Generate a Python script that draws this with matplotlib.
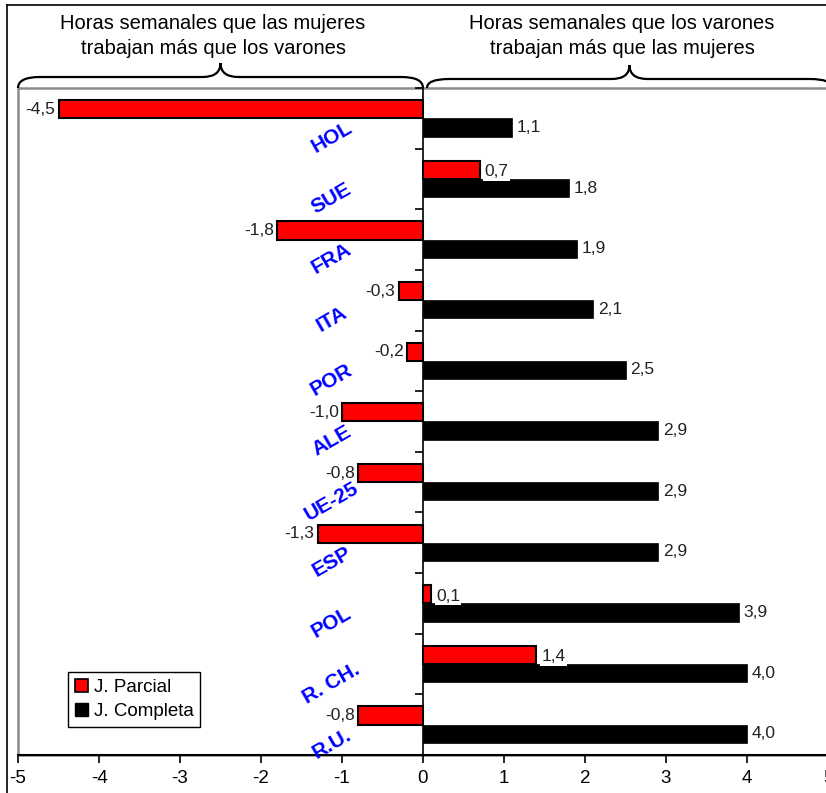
import matplotlib
matplotlib.use("Agg")
import matplotlib.pyplot as plt
from matplotlib.path import Path
from matplotlib.patches import PathPatch, Rectangle, Patch
from matplotlib.lines import Line2D
import numpy as np

categories = ["HOL", "SUE", "FRA", "ITA", "POR", "ALE", "UE-25", "ESP", "POL", "R. CH.", "R.U."]
parcial = [-4.5, 0.7, -1.8, -0.3, -0.2, -1.0, -0.8, -1.3, 0.1, 1.4, -0.8]
completa = [1.1, 1.8, 1.9, 2.1, 2.5, 2.9, 2.9, 2.9, 3.9, 4.0, 4.0]
xticks = [-5, -4, -3, -2, -1, 0, 1, 2, 3, 4, 5]
series_names = ["J. Parcial", "J. Completa"]
title_left = "Horas semanales que las mujeres\ntrabajan más que los varones"
title_right = "Horas semanales que los varones\ntrabajan más que las mujeres"

W, H = 826, 793
plt.rcParams['font.family'] = ['Liberation Sans', 'DejaVu Sans']
fig = plt.figure(figsize=(W / 100, H / 100), dpi=100)

def fx(x):
    return x / W

def fy(y):
    return 1 - y / H

ax_l, ax_r, ax_t, ax_b = 18, 828, 88, 755
ax = fig.add_axes([fx(ax_l), fy(ax_b), (ax_r - ax_l) / W, (ax_b - ax_t) / H])

n = len(categories)
y = np.arange(n)
bh = 0.3
ax.barh(y - bh / 2, parcial, height=bh, color='#FF0000', edgecolor='black', linewidth=1.5, zorder=3)
ax.barh(y + bh / 2, completa, height=bh, color='black', edgecolor='black', linewidth=0.5, zorder=3)

ax.set_xlim(-5, 5)
ax.set_ylim(n - 0.5, -0.5)

# value labels
vfont = dict(fontsize=12.5, color='#222222', zorder=5)
for i, v in enumerate(parcial):
    lab = f"{v:.1f}".replace('.', ',')
    if v < 0:
        ax.text(v - 0.04, i - bh / 2, lab, ha='right', va='center', **vfont)
    else:
        ax.text(v + 0.06, i - bh / 2 + 0.03, lab, ha='left', va='center',
                bbox=dict(facecolor='white', edgecolor='none', pad=1.0), **vfont)
for i, v in enumerate(completa):
    lab = f"{v:.1f}".replace('.', ',')
    ax.text(v + 0.06, i + bh / 2, lab, ha='left', va='center', **vfont)

# category labels
for i, c in enumerate(categories):
    ax.text(-1.13, i + 0.32, c, ha='center', va='center', rotation=30,
            fontsize=15, fontweight='bold', color='#0000FF', zorder=5)

# axes styling
ax.spines['left'].set_position(('data', 0))
ax.spines['left'].set_color('black')
ax.spines['left'].set_linewidth(1.2)
ax.spines['right'].set_visible(False)
ax.spines['top'].set_visible(False)
ax.spines['bottom'].set_linewidth(1.5)
ax.set_yticks(np.arange(-0.5, n, 1.0))
ax.set_yticklabels([])
ax.tick_params(axis='y', direction='out', length=6, width=1.2)
ax.set_xticks(xticks)
ax.set_xticklabels([str(t) for t in xticks], fontsize=13.5)
ax.tick_params(axis='x', direction='out', length=6, width=1.2, pad=5)
ax.set_facecolor('none')

# plot area gray border
ax.add_patch(Rectangle((0, 0), 1.2, 1, transform=ax.transAxes, fill=False,
                       edgecolor='#8c8c8c', linewidth=1.8, zorder=1, clip_on=False))

# legend
handles = [Patch(facecolor='#FF0000', edgecolor='black', linewidth=1.2),
           Patch(facecolor='black', edgecolor='black')]
leg = ax.legend(handles, series_names, loc='lower left', bbox_to_anchor=(0.062, 0.042),
                borderaxespad=0, fancybox=False, edgecolor='black', framealpha=1,
                fontsize=13.5, handlelength=0.7, handleheight=0.7, handletextpad=0.3,
                labelspacing=0.4, borderpad=0.35)
leg.get_frame().set_linewidth(1.0)

# outer border
fig.add_artist(Line2D([fx(7), fx(7)], [fy(5), fy(H + 5)], color='black', lw=1.2, transform=fig.transFigure))
fig.add_artist(Line2D([fx(7), fx(W + 5)], [fy(5), fy(5)], color='black', lw=1.2, transform=fig.transFigure))

# braces
def brace(x0, x1, yb, yf, yt, r=22):
    xm = (x0 + x1) / 2
    pts = [(x0, yb), (x0, yf), (x0 + r, yf)]
    codes = [Path.MOVETO, Path.CURVE3, Path.CURVE3]
    pts += [(xm - 18, yf)]
    codes += [Path.LINETO]
    pts += [(xm, yf), (xm, yt)]
    codes += [Path.CURVE3, Path.CURVE3]
    pts += [(xm, yf), (xm + 18, yf)]
    codes += [Path.CURVE3, Path.CURVE3]
    pts += [(x1 - r, yf)]
    codes += [Path.LINETO]
    pts += [(x1, yf), (x1, yb)]
    codes += [Path.CURVE3, Path.CURVE3]
    pts = [(fx(a), fy(b)) for a, b in pts]
    fig.add_artist(PathPatch(Path(pts, codes), transform=fig.transFigure,
                             fill=False, edgecolor='black', lw=1.6))

brace(18, 423, 88, 77, 63)
brace(427, 826 + 6, 88, 79, 65)

fig.text(fx(213), fy(36), title_left, ha='center', va='center', fontsize=14.5, linespacing=1.35)
fig.text(fx(622), fy(36), title_right, ha='center', va='center', fontsize=14.5, linespacing=1.35)

fig.savefig('out.png', dpi=100)
